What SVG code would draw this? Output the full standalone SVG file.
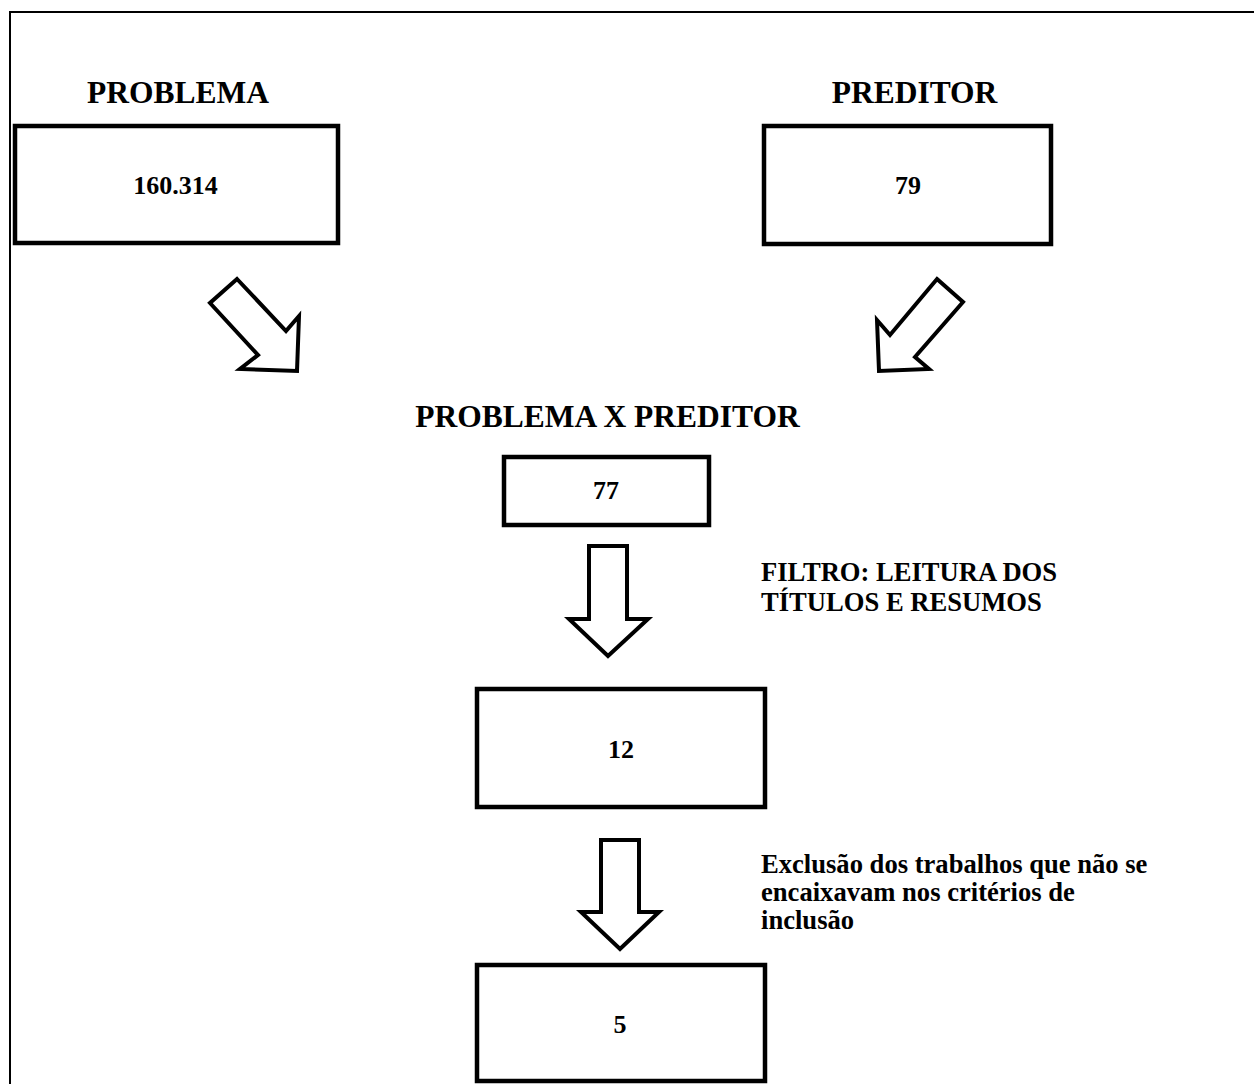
<svg xmlns="http://www.w3.org/2000/svg" width="1254" height="1084" viewBox="0 0 1254 1084">
<style>
text{font-family:"Liberation Serif","Times New Roman",serif;font-weight:bold;fill:#000}
.title{font-size:31.5px;text-anchor:middle}
.num{font-size:26px;text-anchor:middle}
.lbl{font-size:26.6px}
.box{fill:#fff;stroke:#000;stroke-width:4.5}
.arr{fill:#fff;stroke:#000;stroke-width:4;stroke-linejoin:miter}
.frame{fill:none;stroke:#000;stroke-width:2}
</style>
<rect width="1254" height="1084" fill="#fff"/>
<path class="frame" d="M10,1084 V12 H1254"/>
<g id="node-problema">
<text class="title" x="178" y="103">PROBLEMA</text>
<rect class="box" x="15" y="126" width="323" height="117"/>
<text class="num" x="175.5" y="194">160.314</text>
</g>
<g id="node-preditor">
<text class="title" x="914.5" y="103">PREDITOR</text>
<rect class="box" x="764" y="126" width="287" height="118"/>
<text class="num" x="908" y="194">79</text>
</g>
<g id="node-cruzamento">
<text class="title" x="607.5" y="427">PROBLEMA X PREDITOR</text>
<rect class="box" x="504" y="457" width="205" height="68"/>
<text class="num" x="606" y="499">77</text>
</g>
<g id="node-12">
<rect class="box" x="477" y="689" width="288" height="118"/>
<text class="num" x="621" y="758">12</text>
</g>
<g id="node-5">
<rect class="box" x="477" y="965" width="288" height="116"/>
<text class="num" x="620" y="1033">5</text>
</g>
<g id="label-filtro">
<text class="lbl" x="761" y="581">FILTRO: LEITURA DOS</text>
<text class="lbl" x="761" y="611">TÍTULOS E RESUMOS</text>
</g>
<g id="label-exclusao">
<text class="lbl" x="761" y="873">Exclusão dos trabalhos que não se</text>
<text class="lbl" x="761" y="901">encaixavam nos critérios de</text>
<text class="lbl" x="761" y="929">inclusão</text>
</g>
<g id="connectors">
<polygon class="arr" points="237,279 286,331 299,316 297,371 240,369 258,355 210,303"/>
<polygon class="arr" points="937,279 963,302 915,357 929,369 879,371 877,320 890,335"/>
<polygon class="arr" points="589,546 627,546 627,619 648,619 608,656 569,619 589,619"/>
<polygon class="arr" points="601,840 639,840 639,912 659,912 620,949 581,912 601,912"/>
</g>
</svg>
